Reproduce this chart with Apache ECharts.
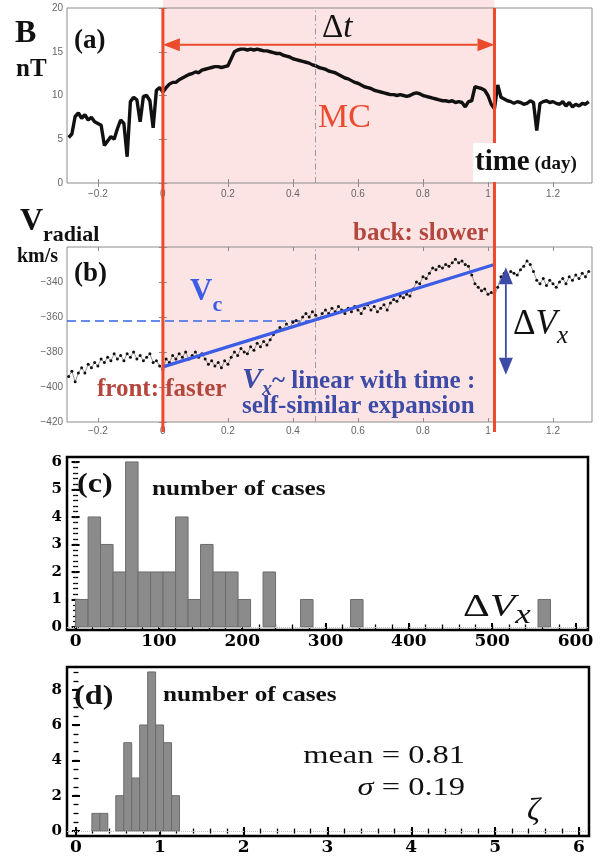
<!DOCTYPE html>
<html>
<head>
<meta charset="utf-8">
<title>MC expansion</title>
<script src="https://cdn.jsdelivr.net/npm/echarts@6.0.0/dist/echarts.min.js"></script>
<style>
  html, body { margin: 0; padding: 0; background: #fff; }
  #chart { width: 612px; height: 856px; }
</style>
</head>
<body>
<div id="chart"></div>
<script>
// panels (a) and (b): time in days from the MC front
const timeDays = [
  -0.29, -0.28, -0.27, -0.26, -0.25, -0.24, -0.23, -0.22, -0.21, -0.2,
  -0.19, -0.18, -0.17, -0.16, -0.15, -0.14, -0.13, -0.12, -0.11, -0.1,
  -0.09, -0.08, -0.07, -0.06, -0.05, -0.04, -0.03, -0.02, -0.01,
  0, 0.01, 0.02, 0.03, 0.04, 0.05, 0.06, 0.07, 0.08, 0.09,
  0.1, 0.11, 0.12, 0.13, 0.14, 0.15, 0.16, 0.17, 0.18, 0.19,
  0.2, 0.21, 0.22, 0.23, 0.24, 0.25, 0.26, 0.27, 0.28, 0.29,
  0.3, 0.31, 0.32, 0.33, 0.34, 0.35, 0.36, 0.37, 0.38, 0.39,
  0.4, 0.41, 0.42, 0.43, 0.44, 0.45, 0.46, 0.47, 0.48, 0.49,
  0.5, 0.51, 0.52, 0.53, 0.54, 0.55, 0.56, 0.57, 0.58, 0.59,
  0.6, 0.61, 0.62, 0.63, 0.64, 0.65, 0.66, 0.67, 0.68, 0.69,
  0.7, 0.71, 0.72, 0.73, 0.74, 0.75, 0.76, 0.77, 0.78, 0.79,
  0.8, 0.81, 0.82, 0.83, 0.84, 0.85, 0.86, 0.87, 0.88, 0.89,
  0.9, 0.91, 0.92, 0.93, 0.94, 0.95, 0.96, 0.97, 0.98, 0.99,
  1, 1.01, 1.02, 1.03, 1.04, 1.05, 1.06, 1.07, 1.08, 1.09,
  1.1, 1.11, 1.12, 1.13, 1.14, 1.15, 1.16, 1.17, 1.18, 1.19,
  1.2, 1.21, 1.22, 1.23, 1.24, 1.25, 1.26, 1.27, 1.28, 1.29,
  1.3, 1.31
];
// |B| in nT
const bField = [
  5.2, 5.6, 7.6, 8.0, 7.4, 7.8, 7.2, 7.5, 7.0, 6.8,
  6.6, 4.3, 4.8, 5.3, 5.0, 6.2, 7.2, 6.8, 3.0, 9.3,
  9.8, 9.5, 7.0, 9.9, 10.0, 9.4, 6.3, 10.6, 10.9,
  10.4, 10.9, 11.3, 11.5, 11.5, 11.8, 12.0, 12.2, 12.4, 12.5,
  12.7, 12.6, 12.9, 13.0, 13.1, 13.2, 13.3, 13.3, 13.2, 13.3,
  13.4, 14.2, 15.0, 15.2, 15.3, 15.3, 15.2, 15.3, 15.2, 15.3,
  15.2, 15.1, 15.1, 15.0, 14.9, 14.8, 14.8, 14.6, 14.5, 14.4,
  14.2, 14.1, 14.0, 13.9, 13.8, 13.7, 13.5, 13.4, 13.2, 13.1,
  13.0, 12.8, 12.7, 12.6, 12.4, 12.2, 12.0, 11.9, 11.7, 11.5,
  11.4, 11.2, 11.0, 10.9, 10.8, 10.6, 10.5, 10.4, 10.3, 10.2,
  10.1, 10.1, 10.0, 10.1, 10.0, 9.9, 10.0, 10.2, 10.3, 10.2,
  10.0, 9.9, 9.8, 9.7, 9.6, 9.5, 9.4, 9.4, 9.3, 9.4,
  9.2, 9.3, 9.2, 8.7, 9.3, 9.4, 11.0, 10.9, 10.8, 10.6,
  10.0, 9.0, 8.5, 11.2, 9.8, 9.6, 9.4, 9.3, 9.1, 9.3,
  9.2, 9.0, 9.1, 9.4, 9.2, 6.0, 9.1, 9.3, 9.4, 9.2,
  9.3, 9.1, 9.0, 9.3, 8.8, 9.2, 8.7, 9.0, 8.8, 9.1,
  9.0, 9.3
];
// radial speed in km/s
const vRadial = [
  -394, -391, -397, -392, -389, -392, -387, -389, -386, -388,
  -384, -386, -383, -385, -381, -384, -382, -385, -381, -383,
  -380, -384, -382, -385, -383, -381, -386, -385, -388,
  -390, -384, -386, -382, -384, -381, -383, -380, -384, -382,
  -380, -383, -381, -384, -387, -385, -388, -386, -389, -385,
  -387, -383, -380, -382, -378, -380, -381, -377, -379, -375,
  -377, -374, -376, -373, -370, -368, -366, -367, -364, -366,
  -363, -362, -364, -360, -358, -360, -357, -359, -361, -358,
  -356, -358, -355, -357, -354, -356, -358, -355, -357, -354,
  -356, -358, -355, -353, -356, -354, -357, -355, -353, -356,
  -352, -350, -351, -348, -349, -347, -348, -344, -340, -341,
  -337, -338, -335, -332, -333, -331, -332, -330, -331, -329,
  -327, -329, -328, -330, -331, -336, -341, -343, -345, -344,
  -347, -346, -348, -343, -337, -335, -336, -334, -335, -336,
  -333, -331, -328, -330, -334, -339, -341, -338, -342, -339,
  -341, -343, -340, -338, -341, -337, -339, -336, -338, -335,
  -337, -334
];

// MC interval, centre, the linear fit of the speed and the two arrows
const mcStart = 0;
const mcEnd = 1.02;
const mcCentre = 0.47;
const vcLevel = -362.3;
const vcSpan = [-0.295, 0.46];
const fitTime = [0, 1.02];
const fitSpeed = [-388.5, -330];
const dtArrow = [mcStart, 15.8, mcEnd, 15.8];
const dvArrow = [1.055, -331.5, 1.055, -393];

// panel (c): number of cases per 15 km/s bin of delta Vx
const dvBinWidth = 15;
const dvCounts = [1, 4, 3, 2, 6, 2, 2, 2, 4, 1, 3, 2, 2, 1, 0, 2, 0, 0, 1, 0,
  0, 0, 1, 0, 0, 0, 0, 0, 0, 0, 0, 0, 0, 0, 0, 0, 0, 1];
// panel (d): number of cases per bin of zeta
const zetaBinStart = 0.19;
const zetaBinWidth = 0.095;
const zetaCounts = [1, 1, 0, 2, 5, 3, 6, 9, 6, 5, 2];

// tick values
const timeTicks = [-0.2, 0, 0.2, 0.4, 0.6, 0.8, 1, 1.2];
const bTicks = [0, 5, 10, 15, 20];
const vTicks = [-420, -400, -380, -360, -340, -320];
const dvTicks = [0, 100, 200, 300, 400, 500, 600];
const countTicksC = [0, 1, 2, 3, 4, 5, 6];
const zetaTicks = [0, 1, 2, 3, 4, 5, 6];
const countTicksD = [0, 2, 4, 6, 8];

const RED = '#eb4a2d';
const PINK = '#fce4e4';
const BLUE = '#3b5de6';
const INDIGO = '#3d4aa6';
const BROWN = '#b3473d';
const SERIF = '"Liberation Serif", "DejaVu Serif", serif';

function steps(from, to, step) {
  const out = [];
  for (let v = from; v <= to + 1e-9; v += step) out.push(+v.toFixed(4));
  return out;
}
const minus = (v) => (v < 0 ? '\u2212' + Math.abs(v) : String(v));

function thinAxis(gi, pos, min, max, ticks, labels, margin, fmt) {
  return {
    type: 'value', gridIndex: gi, position: pos, min: min, max: max,
    axisLine: { show: false }, splitLine: { show: false },
    axisTick: { show: true, inside: true, length: 4, customValues: ticks, lineStyle: { color: '#8c8c8c', width: 1 } },
    axisLabel: {
      show: labels, customValues: ticks, formatter: fmt, margin: margin,
      color: '#666', fontSize: 10, fontFamily: '"Liberation Sans", Arial, sans-serif'
    }
  };
}
function boxAxis(gi, pos, min, max, ticks, len, labels, size, margin) {
  return {
    type: 'value', gridIndex: gi, position: pos, min: min, max: max,
    axisLine: { show: false }, splitLine: { show: false },
    axisTick: { show: true, inside: true, length: len, customValues: ticks, lineStyle: { color: '#000', width: len > 3 ? 2 : 1.3 } },
    axisLabel: {
      show: labels, customValues: ticks, margin: margin, color: '#000',
      fontFamily: '"DejaVu Serif", serif', fontWeight: 'bold', fontSize: size
    }
  };
}

const xAxis = [];
const yAxis = [];
const add = (list, ax) => list.push(ax) - 1;

// (a)
const aX = add(xAxis, thinAxis(0, 'bottom', -0.295, 1.32, timeTicks, true, 6, minus));
add(xAxis, thinAxis(0, 'top', -0.295, 1.32, timeTicks, false, 0));
const aY = add(yAxis, thinAxis(0, 'left', 0, 20, bTicks, true, 4, minus));
add(yAxis, thinAxis(0, 'right', 0, 20, bTicks, false, 0));
// (b)
const bX = add(xAxis, thinAxis(1, 'bottom', -0.295, 1.32, timeTicks, true, 4, minus));
add(xAxis, thinAxis(1, 'top', -0.295, 1.32, timeTicks, false, 0));
const bY = add(yAxis, thinAxis(1, 'left', -420, -320, vTicks, true, 4, (v) => (v === -320 ? '' : minus(v))));
add(yAxis, thinAxis(1, 'right', -420, -320, vTicks, false, 0));
// (c)
const cX = add(xAxis, boxAxis(2, 'bottom', -10.3, 615, dvTicks, 4, true, 17, 3));
add(xAxis, boxAxis(2, 'bottom', -10.3, 615, steps(0, 600, 20), 2.5, false));
add(xAxis, boxAxis(2, 'top', -10.3, 615, dvTicks, 4, false));
add(xAxis, boxAxis(2, 'top', -10.3, 615, steps(0, 600, 20), 2.5, false));
const cY = add(yAxis, boxAxis(2, 'left', -0.11, 6.18, countTicksC, 4, true, 15, 5));
add(yAxis, boxAxis(2, 'left', -0.11, 6.18, steps(0, 6, 0.2), 2.5, false));
add(yAxis, boxAxis(2, 'right', -0.11, 6.18, countTicksC, 4, false));
add(yAxis, boxAxis(2, 'right', -0.11, 6.18, steps(0, 6, 0.2), 2.5, false));
// (d)
const dX = add(xAxis, boxAxis(3, 'bottom', -0.107, 6.12, zetaTicks, 4, true, 17, 3));
add(xAxis, boxAxis(3, 'bottom', -0.107, 6.12, steps(0, 6, 0.2), 2.5, false));
add(xAxis, boxAxis(3, 'top', -0.107, 6.12, zetaTicks, 4, false));
add(xAxis, boxAxis(3, 'top', -0.107, 6.12, steps(0, 6, 0.2), 2.5, false));
const dY = add(yAxis, boxAxis(3, 'left', -0.28, 9.28, countTicksD, 4, true, 15, 5));
add(yAxis, boxAxis(3, 'left', -0.28, 9.28, steps(0, 9, 0.5), 2.5, false));
add(yAxis, boxAxis(3, 'right', -0.28, 9.28, countTicksD, 4, false));
add(yAxis, boxAxis(3, 'right', -0.28, 9.28, steps(0, 9, 0.5), 2.5, false));

const centreLine = {
  silent: true, symbol: 'none', label: { show: false },
  lineStyle: { color: '#9a9a9a', width: 1, type: [6, 3, 1.5, 3] },
  data: [{ xAxis: mcCentre }]
};
const zeroLine = {
  silent: true, symbol: 'none', label: { show: false },
  lineStyle: { color: '#c4c4c4', width: 1, type: 'dotted' },
  data: [{ yAxis: 0 }]
};

function binRender(params, api) {
  const p0 = api.coord([api.value(0), 0]);
  const p1 = api.coord([api.value(1), api.value(2)]);
  return {
    type: 'rect',
    shape: { x: p0[0], y: p1[1], width: p1[0] - p0[0], height: p0[1] - p1[1] },
    style: { fill: '#8b8b8b', stroke: '#6c6c6c', lineWidth: 1 }
  };
}
// double-headed arrow, tips exactly on the two end points
function arrowRender(color, headLen, headHalf) {
  return (params, api) => {
    const p = api.coord([api.value(0), api.value(1)]);
    const q = api.coord([api.value(2), api.value(3)]);
    const len = Math.hypot(q[0] - p[0], q[1] - p[1]);
    const ux = (q[0] - p[0]) / len, uy = (q[1] - p[1]) / len;
    const nx = -uy * headHalf, ny = ux * headHalf;
    const head = (tip, dir) => {
      const bx = tip[0] + dir * ux * headLen, by = tip[1] + dir * uy * headLen;
      return { type: 'polygon', shape: { points: [tip, [bx + nx, by + ny], [bx - nx, by - ny]] }, style: { fill: color } };
    };
    return {
      type: 'group',
      children: [
        { type: 'line', shape: { x1: p[0] + ux * headLen, y1: p[1] + uy * headLen, x2: q[0] - ux * headLen, y2: q[1] - uy * headLen }, style: { stroke: color, lineWidth: 1.8 } },
        head(p, 1),
        head(q, -1)
      ]
    };
  };
}
const dvBins = dvCounts.map((c, i) => [i * dvBinWidth, (i + 1) * dvBinWidth, c]).filter((d) => d[2] > 0);
const zetaBins = zetaCounts
  .map((c, i) => [zetaBinStart + i * zetaBinWidth, zetaBinStart + (i + 1) * zetaBinWidth, c])
  .filter((d) => d[2] > 0);

const option = {
  animation: false,
  backgroundColor: '#fff',
  grid: [
    { left: 67, top: 8, width: 525, height: 175, show: true, borderColor: '#8c8c8c', borderWidth: 1 },
    { left: 67, top: 247, width: 525, height: 175, show: true, borderColor: '#8c8c8c', borderWidth: 1 },
    { left: 67, top: 457, width: 521, height: 173, show: true, borderColor: '#000', borderWidth: 2.5 },
    { left: 67, top: 667, width: 522, height: 171, show: true, borderColor: '#000', borderWidth: 2.5 }
  ],
  xAxis: xAxis,
  yAxis: yAxis,
  series: [
    {
      name: 'B', type: 'line', xAxisIndex: aX, yAxisIndex: aY, silent: true,
      symbol: 'none', lineStyle: { color: '#111', width: 3.4 },
      data: timeDays.map((t, i) => [t, bField[i]]),
      markLine: centreLine
    },
    {
      name: 'Vradial', type: 'line', xAxisIndex: bX, yAxisIndex: bY, silent: true,
      symbol: 'circle', symbolSize: 3, showSymbol: true, showAllSymbol: true,
      itemStyle: { color: '#111' }, lineStyle: { color: '#444', width: 0.8, opacity: 0.7 },
      data: timeDays.map((t, i) => [t, vRadial[i]]),
      markLine: centreLine
    },
    {
      name: 'Vc', type: 'line', xAxisIndex: bX, yAxisIndex: bY, silent: true, symbol: 'none',
      lineStyle: { color: '#3566e8', width: 1.6, type: [9, 5] },
      data: vcSpan.map((t) => [t, vcLevel])
    },
    {
      name: 'fit', type: 'line', xAxisIndex: bX, yAxisIndex: bY, silent: true, symbol: 'none', z: 4,
      lineStyle: { color: BLUE, width: 3.2 },
      data: fitTime.map((t, i) => [t, fitSpeed[i]])
    },
    {
      name: 'dt', type: 'custom', xAxisIndex: aX, yAxisIndex: aY, silent: true, z: 5,
      renderItem: arrowRender(RED, 17, 6.5), encode: { x: [0, 2], y: [1, 3] }, data: [dtArrow]
    },
    {
      name: 'dV', type: 'custom', xAxisIndex: bX, yAxisIndex: bY, silent: true, z: 5,
      renderItem: arrowRender(INDIGO, 17, 7), encode: { x: [0, 2], y: [1, 3] }, data: [dvArrow]
    },
    {
      name: 'dVx hist', type: 'custom', xAxisIndex: cX, yAxisIndex: cY, silent: true,
      renderItem: binRender, encode: { x: [0, 1], y: 2 }, data: dvBins, markLine: zeroLine
    },
    {
      name: 'zeta hist', type: 'custom', xAxisIndex: dX, yAxisIndex: dY, silent: true,
      renderItem: binRender, encode: { x: [0, 1], y: 2 }, data: zetaBins, markLine: zeroLine
    }
  ]
};

const chart = echarts.init(document.getElementById('chart'), null, { renderer: 'canvas', width: 612, height: 856 });
chart.setOption(option);

// annotations
const ctx = document.createElement('canvas').getContext('2d');
function fontOf(p) {
  return (p.italic ? 'italic ' : '') + (p.bold ? 'bold ' : '') + p.size + 'px ' + SERIF;
}
function runWidth(parts, sx) {
  return parts.reduce((w, p) => {
    ctx.font = fontOf(p);
    return w + (ctx.measureText(p.text).width + (p.dx || 0)) * (sx || 1);
  }, 0);
}
function textRun(x, baseline, parts, sx) {
  sx = sx || 1;
  const els = [];
  parts.forEach((p) => {
    const font = fontOf(p);
    x += (p.dx || 0) * sx;
    els.push({
      type: 'text', x: x, y: baseline + (p.dy || 0) - 0.34 * p.size, scaleX: sx, z: 60, silent: true,
      style: { x: 0, y: 0, text: p.text, font: font, fill: p.fill || '#111', textAlign: 'left', textVerticalAlign: 'middle', align: 'left', verticalAlign: 'middle' }
    });
    ctx.font = font;
    x += ctx.measureText(p.text).width * sx;
  });
  return els;
}

const x0 = chart.convertToPixel({ xAxisIndex: aX }, mcStart);
const x1 = chart.convertToPixel({ xAxisIndex: aX }, mcEnd);
const yTop = chart.convertToPixel({ yAxisIndex: aY }, 20);
const yBot = chart.convertToPixel({ yAxisIndex: bY }, -420);

const meanParts = [{ text: 'mean = 0.81', size: 25 }];
const sigmaParts = [{ text: '\u03c3', size: 25, italic: true }, { text: ' = 0.19', size: 25 }];

const graphic = [
  { type: 'rect', z: -1, silent: true, shape: { x: x0, y: 0, width: x1 - x0, height: yBot }, style: { fill: PINK } },
  { type: 'line', z: 50, silent: true, shape: { x1: x0, y1: yTop, x2: x0, y2: yBot + 10 }, style: { stroke: RED, lineWidth: 3 } },
  { type: 'line', z: 50, silent: true, shape: { x1: x1, y1: yTop, x2: x1, y2: yBot + 10 }, style: { stroke: RED, lineWidth: 3 } },
  { type: 'rect', z: 55, silent: true, shape: { x: 473, y: 143, width: 118, height: 39 }, style: { fill: '#fff' } }
].concat(
  textRun(15, 45, [{ text: 'B', size: 32, bold: true }]),
  textRun(74, 50, [{ text: '(a)', size: 27, bold: true }]),
  textRun(16, 78, [{ text: 'nT', size: 25, bold: true }]),
  textRun(322, 40, [{ text: '\u0394', size: 33 }, { text: 't', size: 33, italic: true }]),
  textRun(318, 130, [{ text: 'MC', size: 34, fill: RED }]),
  textRun(475, 172, [{ text: 'time', size: 29, bold: true }, { text: ' (day)', size: 19, bold: true, dy: -1 }]),

  textRun(20, 233, [{ text: 'V', size: 32, bold: true }, { text: 'radial', size: 22, bold: true, dy: 10 }]),
  textRun(17, 264, [{ text: 'km/s', size: 20, bold: true }]),
  textRun(74, 283, [{ text: '(b)', size: 27, bold: true }]),
  textRun(190, 303, [{ text: 'V', size: 31, bold: true, fill: BLUE }, { text: 'c', size: 22, bold: true, fill: BLUE, dy: 10 }]),
  textRun(97, 398, [{ text: 'front: faster', size: 25, bold: true, fill: BROWN }]),
  textRun(353, 242, [{ text: 'back: slower', size: 25, bold: true, fill: BROWN }]),
  textRun(242, 390, [
    { text: 'V', size: 30, bold: true, italic: true, fill: INDIGO },
    { text: 'x', size: 20, bold: true, italic: true, fill: INDIGO, dy: 7 },
    { text: '~ linear with time :', size: 25, bold: true, fill: INDIGO }
  ]),
  textRun(242, 415, [{ text: 'self-similar expansion', size: 25, bold: true, fill: INDIGO }]),
  textRun(513, 337, [{ text: '\u0394', size: 35 }, { text: 'V', size: 35, italic: true }, { text: 'x', size: 25, italic: true, dy: 8 }]),

  textRun(77, 494, [{ text: '(c)', size: 28, bold: true }], 1.15),
  textRun(152, 497, [{ text: 'number of cases', size: 21, bold: true }], 1.2),
  textRun(463, 618, [{ text: '\u0394', size: 32 }, { text: 'V', size: 32, italic: true }, { text: 'x', size: 27, italic: true, dy: 7 }], 1.3),

  textRun(74, 706, [{ text: '(d)', size: 28, bold: true }], 1.15),
  textRun(163, 703, [{ text: 'number of cases', size: 21, bold: true }], 1.2),
  textRun(465 - runWidth(meanParts, 1.3), 765, meanParts, 1.3),
  textRun(465 - runWidth(sigmaParts, 1.3), 797, sigmaParts, 1.3),
  textRun(527, 822, [{ text: '\u03b6', size: 32, italic: true }])
);

chart.setOption({ graphic: graphic });
</script>
</body>
</html>
